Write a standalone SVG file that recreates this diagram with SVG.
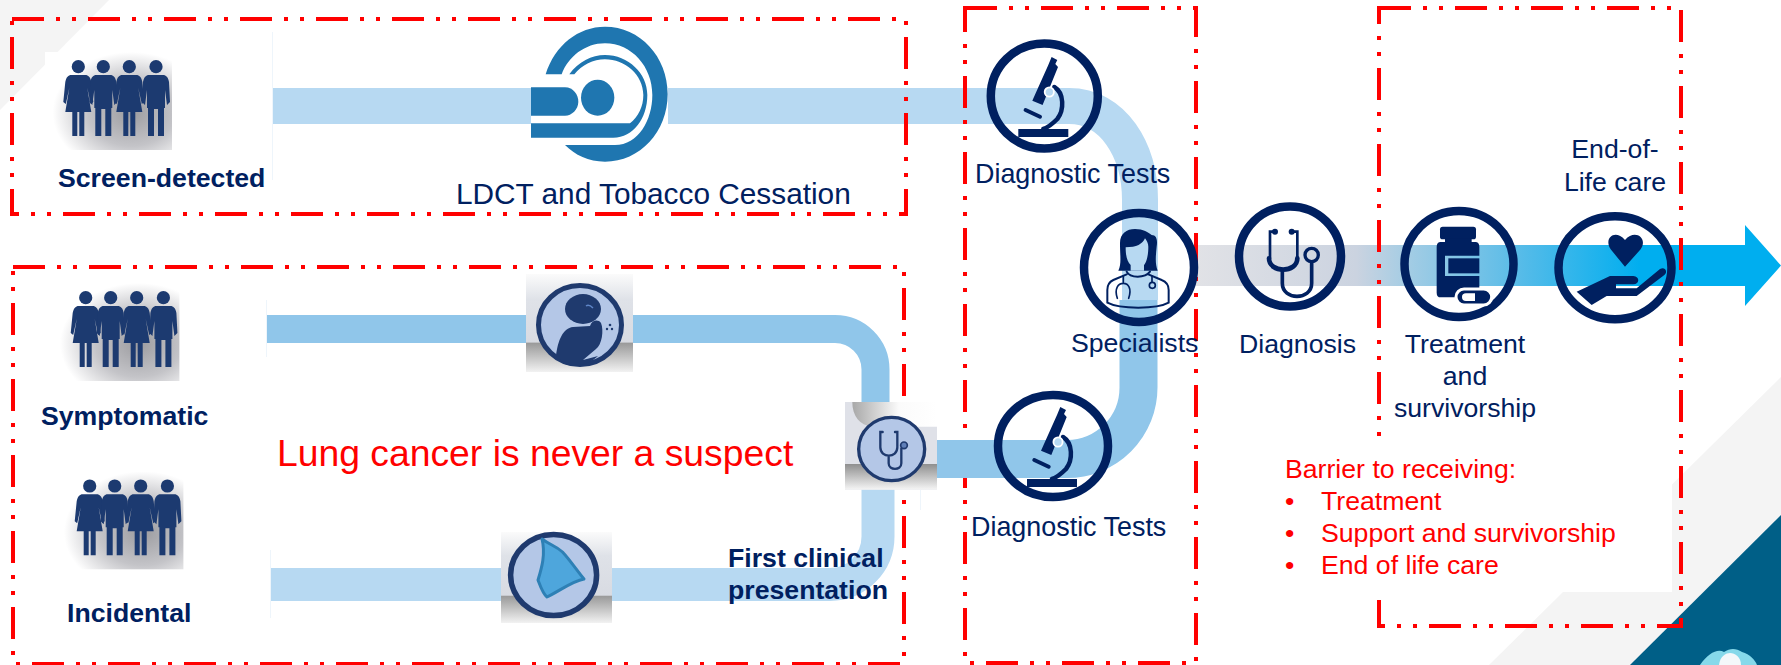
<svg xmlns="http://www.w3.org/2000/svg" width="1781" height="665" viewBox="0 0 1781 665">
<style>
text{font-family:"Liberation Sans",Arial,sans-serif;font-size:26.67px;fill:#002060}
.b{font-weight:bold}
.r{fill:#ff0000}
.m{text-anchor:middle}
.w{font-size:26.9px}
.box{fill:none;stroke:#ff0000;stroke-width:4;stroke-dasharray:32 12 4 12 4 12}
.band{fill:none}
.l{stroke:#b7d9f2}
.d{stroke:#90c6ea}
.ring{fill:none;stroke:#002060;stroke-width:8.5}
.ic{fill:#002060}
.ln{fill:none;stroke:#002060;stroke-linecap:round}
.mri{fill:#1f76b0}
.p{fill:#1c3a70}
.edge{stroke:#eef5fb;stroke-width:1}
</style>
<defs>
<linearGradient id="arrowFill" gradientUnits="userSpaceOnUse" x1="1196" y1="0" x2="1640" y2="0">
<stop offset="0" stop-color="#e1e2e6"/><stop offset=".36" stop-color="#cbd3e0"/><stop offset=".47" stop-color="#a6cde4"/><stop offset=".72" stop-color="#5abce8"/><stop offset="1" stop-color="#00aeef"/>
</linearGradient>
<radialGradient id="shade" cx=".68" cy=".62" r=".62">
<stop offset="0" stop-color="#9c9ca0"/><stop offset=".55" stop-color="#c4c4c8"/><stop offset="1" stop-color="#ffffff"/>
</radialGradient>
<linearGradient id="picBg" x1="0" y1="0" x2="0" y2="1">
<stop offset="0" stop-color="#fbfbfb"/><stop offset=".26" stop-color="#dfe2e8"/><stop offset=".695" stop-color="#d8dbe2"/><stop offset=".705" stop-color="#9a9a9a"/><stop offset="1" stop-color="#f2f2f2"/>
</linearGradient>
<linearGradient id="topShade" x1="0" y1="0" x2="1" y2="0">
<stop offset="0" stop-color="#a8a8a8"/><stop offset=".55" stop-color="#fbfbfb"/><stop offset="1" stop-color="#ffffff"/>
</linearGradient>
<linearGradient id="lowShade" x1="0" y1="0" x2="0" y2="1">
<stop offset="0" stop-color="#8f8f8f"/><stop offset="1" stop-color="#f5f5f5"/>
</linearGradient>
<g id="woman" class="p">
<circle cx="0" cy="14.7" r="6.6"/>
<path d="M-7,23 C-10,23 -12,25 -13,30 L-15,50 L-12.5,52 L-9,36 L-13,60 L-6,60 V84 H-1 V60 H1 V84 H6 V60 H13 L9,36 L12.5,52 L15,50 L13,30 C12,25 10,23 7,23 Z"/>
</g>
<g id="man" class="p">
<circle cx="0" cy="14.7" r="6.6"/>
<path d="M-7,23 C-10,23 -12,25 -13,30 L-14,50 L-11,53 L-9,38 V56 H-8 V84 H-2 V57 H2 V84 H8 V56 H9 V38 L11,53 L14,50 L13,30 C12,25 10,23 7,23 Z"/>
</g>
<g id="people">
<rect x="0" y="0" width="127" height="98" fill="url(#shade)"/>
<use href="#woman" x="33.3"/><use href="#man" x="58.3"/><use href="#woman" x="84.3"/><use href="#man" x="111"/>
</g>
<g id="scope">
<rect class="ic" x="-26" y="33" width="50" height="8"/>
<path class="ic" d="M7.3,-39 L13,-36 L11,-32 L13.7,-29 L-1.7,9 L-12,4.7 L-9,-2 L4,-31 Z"/>
<path class="ln" stroke-width="4" d="M-18.7,14 L-4.3,20.7"/>
<path class="ln" stroke-width="4.5" d="M10,-9 C20,-3 20,14 13,23 C9,27 5,31 -1,33"/>
<circle cx="5" cy="-4" r="4.6" fill="#b7d9f2" stroke="#ffffff" stroke-width="1.8"/>
</g>
</defs>

<g id="background">
<polygon points="0,0 109,0 0,110" fill="#f4f4f4"/>
<polygon points="1781,377 1781,665 1489,665" fill="#f4f4f4"/>
<polygon points="1781,515 1781,665 1630,665" fill="#005f87"/>
<path d="M1700,665 C1708,653 1718,648 1724,652 C1730,648 1736,648 1742,652 C1750,654 1755,660 1757,665 Z" fill="#86d9ea"/>
<path d="M1719,665 C1720,656 1726,653 1730,653 C1735,653 1741,657 1741,665 Z" fill="#f4f8fa"/>
</g>

<g id="connectors">
<path class="band l" stroke-width="36" d="M273,106 H531"/>
<path class="band l" stroke-width="36" d="M668,106 H1069 C1113,106 1140,150 1140,200 V300"/>
<path class="band d" stroke-width="28" d="M266.5,329 H835 A40.5,40.5 0 0 1 875.5,369.5 V405"/>
<path class="band l" stroke-width="33" d="M270.5,584.5 H830 A48,48 0 0 0 878,536.5 V485"/>
<polygon points="1196,245 1745,245 1745,225 1781,265.5 1745,306 1745,286 1196,286" fill="url(#arrowFill)"/>
<path class="edge" d="M272.5,32 V180 M266.5,300 V357 M270.5,550 V618 M920.5,490 V510"/>
</g>

<g id="regions">
<path class="box" d="M12,19 H906 V214 H12 Z"/>
<path class="box" d="M13,267 H904 V664 H13 Z"/>
<path class="box" d="M965,8 H1196 V663 H965 Z"/>
<path class="box" d="M1379,8 H1681 V626 H1379 Z"/>
</g>
<path id="connector-lower" class="band d" stroke-width="38" d="M937,459 H1067 A71.5,71.5 0 0 0 1138.5,387.5 V300"/>

<g id="screen-detected">
<use href="#people" x="45" y="52"/>
<text class="b" x="58" y="187">Screen-detected</text>
</g>

<g id="ldct">
<g transform="translate(520,20) scale(.33333)">
<path class="mri" d="M77,163 C105,75 175,20 255,20 C360,20 443,110 443,222 C443,335 360,425 255,425 C205,425 165,405 135,375 L285,375 C355,375 397,300 397,225 C397,140 335,70 255,70 C195,70 145,110 125,163 Z"/>
<path class="mri" d="M33,310 L330,310 C355,290 370,260 370,225 C370,165 315,118 255,118 C220,118 185,135 163,163 L148,163 C175,125 215,105 255,105 C325,105 382,160 382,225 C382,295 340,353 280,353 L33,353 Z"/>
<path class="mri" d="M33,202 L135,202 C160,202 175,225 175,245 C175,268 155,287 135,287 L33,287 Z"/>
<ellipse class="mri" cx="233" cy="233" rx="50" ry="54"/>
</g>
<text x="456" y="204" style="font-size:29.8px">LDCT and Tobacco Cessation</text>
</g>

<g id="symptomatic">
<use href="#people" x="52.4" y="283"/>
<text class="b" x="41" y="425">Symptomatic</text>
</g>

<g id="incidental">
<use href="#people" x="56.4" y="471.3"/>
<text class="b" x="67" y="622">Incidental</text>
</g>

<g id="cough">
<rect x="526" y="274" width="107" height="98" fill="url(#picBg)"/>
<ellipse cx="580" cy="325" rx="41.5" ry="39.5" fill="#b4c7e7" stroke="#1f3a6e" stroke-width="5"/>
<ellipse cx="583" cy="309" rx="18" ry="15" fill="#1f3a6e"/>
<path fill="#1f3a6e" d="M556,356 C558,340 563,328 573,327 L590,326 C592,320 598,319 601,323 C604,330 602,345 596,349 L583,360 L598,356 C590,364 575,368 565,364 Z"/>
<path d="M586,306 Q589,304 593,308" fill="none" stroke="#5f86c8" stroke-width="1.5"/>
<circle cx="610" cy="325" r="1.3" fill="#1f3a6e"/><circle cx="607" cy="329" r="1.2" fill="#1f3a6e"/><circle cx="612" cy="329" r="1.2" fill="#1f3a6e"/>
</g>

<g id="lung">
<rect x="501" y="532" width="111" height="91" fill="url(#picBg)"/>
<ellipse cx="553.6" cy="575" rx="43" ry="40.5" fill="#b4c7e7" stroke="#1f3a6e" stroke-width="5.5"/>
<path d="M542,539 C550,545 556,546 562.5,552 C570,560 578,572 584,579 C572,581 558,592 547,597 C543,594 541,588 538,580 C541,570 546,555 542,539 Z" fill="#4ea6dc" stroke="#2e80b5" stroke-width="3" stroke-linejoin="round"/>
</g>

<g id="first-clinical-presentation">
<g transform="translate(700,340) scale(.33333)">
<rect x="435" y="186" width="276" height="263" fill="#dfe1e8"/>
<path d="M457,186 H711 V260 H515 C480,255 457,230 457,186 Z" fill="url(#topShade)"/>
<rect x="435" y="372" width="276" height="77" fill="url(#lowShade)"/>
<ellipse cx="575" cy="327" rx="99" ry="95" fill="#b4c7e7" stroke="#1f3a6e" stroke-width="10"/>
<path d="M548,276 H541 V322 M585,276 H592 V322 M541,322 C541,355 592,355 592,322 M566,348 V370 C566,392 604,392 604,370 V325" fill="none" stroke="#1f3a6e" stroke-width="7" stroke-linecap="round"/>
<circle cx="612" cy="316" r="10" fill="#5f7fb8" stroke="#1f3a6e" stroke-width="5"/>
</g>
<text class="b" x="728" y="567">First clinical</text>
<text class="b" x="728" y="599">presentation</text>
</g>

<text id="lung-note" class="r" x="277" y="466" style="font-size:37.3px">Lung cancer is never a suspect</text>

<g id="diagnostic-tests-top">
<ellipse class="ring" cx="1044.3" cy="96" rx="53.5" ry="52.5"/>
<use href="#scope" x="1044.3" y="96"/>
<text class="w" x="975" y="183">Diagnostic Tests</text>
</g>

<g id="diagnostic-tests-bottom">
<ellipse class="ring" cx="1053" cy="446" rx="55" ry="51"/>
<use href="#scope" x="1053" y="446"/>
<text class="w" x="971" y="536">Diagnostic Tests</text>
</g>

<g id="specialists">
<ellipse class="ring" cx="1139" cy="267.5" rx="55" ry="54.5"/>
<g transform="translate(980,30) scale(.33333)">
<path class="ic" d="M415,722 C425,700 420,680 420,640 C420,610 440,597 465,597 C490,597 505,607 515,615 C530,615 533,630 530,650 C527,680 525,700 533,722 Z"/>
<path fill="#b7d9f2" d="M437,652 C470,652 488,642 495,625 C500,632 505,640 505,650 C505,680 498,700 492,705 V722 H452 V705 C442,695 437,680 437,652 Z"/>
<path class="ln" stroke-width="6" d="M440,725 C450,745 495,745 510,725 M440,733 L400,750 C385,757 382,770 382,780 L382,818 C420,838 530,838 566,818 L566,780 C566,770 563,757 545,750 L505,733"/>
<path class="ln" stroke-width="5" d="M430,738 V760 M412,805 C402,775 415,760 430,760 C445,760 456,775 446,805 M516,738 V755"/>
<circle cx="517" cy="766" r="9" fill="none" stroke="#002060" stroke-width="5"/>
</g>
<text x="1071" y="352">Specialists</text>
</g>

<g id="diagnosis">
<ellipse class="ring" cx="1290" cy="256.5" rx="51" ry="50"/>
<g transform="translate(1220,190) scale(.33333)">
<path class="ln" stroke-width="8" d="M160,125 H150 V205 M215,125 H232 V205"/>
<path class="ln" stroke-width="14" d="M147,205 C147,250 232,250 232,205"/>
<path class="ln" stroke-width="11" d="M187,240 V280 C187,332 275,332 275,280 V218"/>
<circle cx="275" cy="195" r="20" fill="none" stroke="#002060" stroke-width="10"/>
<circle class="ic" cx="165" cy="125" r="9"/><circle class="ic" cx="215" cy="125" r="9"/>
</g>
<text x="1239" y="353">Diagnosis</text>
</g>

<g id="treatment">
<ellipse class="ring" cx="1459" cy="264" rx="54.5" ry="53"/>
<g transform="translate(1220,190) scale(.33333)">
<rect class="ic" x="660" y="110" width="108" height="38" rx="8"/>
<rect class="ic" x="675" y="145" width="80" height="16"/>
<path class="ic" fill-rule="evenodd" d="M662,156 H766 Q778,156 778,170 V308 Q778,322 766,322 H662 Q650,322 650,308 V170 Q650,156 662,156 Z M675,197 V258 H778 V197 Z"/>
<rect class="ic" x="685" y="205" width="93" height="45"/>
<rect class="ic" x="708" y="297" width="107" height="48" rx="24" stroke="#ffffff" stroke-width="9"/>
<path d="M738,310 H765 V333 H738 Q726,333 726,321 Q726,310 738,310 Z" fill="#ffffff"/>
</g>
<text class="m" x="1465" y="353">Treatment</text>
<text class="m" x="1465" y="385">and</text>
<text class="m" x="1465" y="417">survivorship</text>
</g>

<g id="end-of-life">
<ellipse class="ring" cx="1615" cy="267.7" rx="56.5" ry="51.5"/>
<g transform="translate(1220,190) scale(.33333)">
<path class="ic" d="M1215,230 L1172,178 C1150,145 1185,115 1215,150 C1245,115 1285,145 1262,178 Z"/>
<path class="ic" d="M1070,305 L1170,258 L1240,258 C1260,260 1260,282 1240,283 L1188,283 L1188,295 L1250,295 L1320,237 C1335,228 1345,245 1333,255 L1250,318 L1160,318 L1115,345 Z"/>
</g>
<text class="m" x="1615" y="158">End-of-</text>
<text class="m" x="1615" y="191">Life care</text>
</g>

<g id="barriers">
<rect x="1340" y="437" width="332" height="155" fill="#ffffff"/>
<text class="r" x="1285" y="478">Barrier to receiving:</text>
<text class="r" x="1285" y="510">•</text><text class="r" x="1321" y="510">Treatment</text>
<text class="r" x="1285" y="542">•</text><text class="r" x="1321" y="542">Support and survivorship</text>
<text class="r" x="1285" y="574">•</text><text class="r" x="1321" y="574">End of life care</text>
</g>
</svg>
